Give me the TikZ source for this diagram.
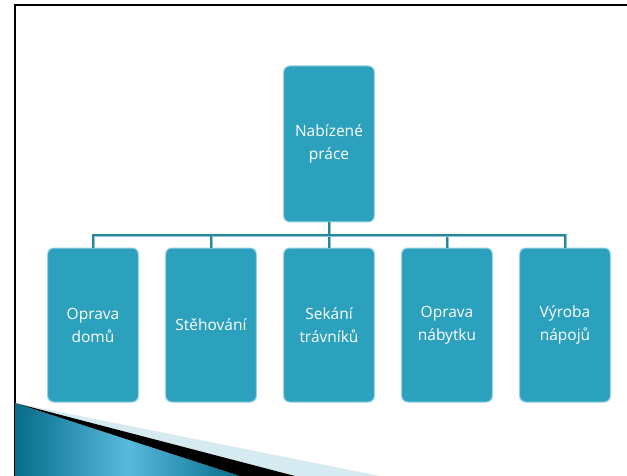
\documentclass[tikz,border=0pt]{standalone}
\usepackage{fontspec}
\setmainfont{Open Sans}
\usepackage{tikz}
\usetikzlibrary{calc}
\usetikzlibrary{positioning}
\definecolor{boxfill}{RGB}{44, 161, 190}
\definecolor{boxrim}{RGB}{150, 210, 226}
\definecolor{linedark}{RGB}{38, 134, 158}
\definecolor{linelight}{RGB}{140, 196, 212}
\definecolor{wedgedark}{RGB}{6, 108, 138}
\definecolor{wedgelight}{RGB}{88, 186, 220}
\definecolor{hatchfill}{RGB}{214, 234, 242}

\tikzset{
    jobbox/.style={rectangle, rounded corners=6pt, fill=boxfill, draw=boxrim, line width=1pt,
                   minimum width=89pt, text width=84pt, align=center, text=white,
                   font=\fontsize{15.5}{23}\selectfont},
    topbox/.style={jobbox, minimum height=156pt},
    childbox/.style={jobbox, minimum height=154pt},
    link/.style={draw=linelight, double=linedark, double distance=1.4pt, line width=0.8pt}
}

\begin{document}
\begin{tikzpicture}[x=1pt, y=-1pt]
            \useasboundingbox (0,0) rectangle (627,476);
            % Slide frame
            \draw[line width=2.2pt] (15,476) -- (15,5) -- (627,5);
            % Corner wedge
            \shade[left color=wedgedark, right color=wedgedark, middle color=wedgelight]
                 (15,403) -- (240,476) -- (15,476) -- cycle;
            \fill[hatchfill] (15,403) -- (380,476) -- (295,476) -- cycle;
            \fill[black]     (15,403) -- (295,476) -- (240,476) -- cycle;
            % Boxes
            \node[topbox]   (top) at (329,144) {Nabízené\\práce};
            \node[childbox] (c1)  at (93,325)  {Oprava\\domů};
            \node[childbox] (c2)  at (211,325) {Stěhování};
            \node[childbox] (c3)  at (329,325) {Sekání\\trávníků};
            \node[childbox] (c4)  at (447,325) {Oprava\\nábytku};
            \node[childbox] (c5)  at (565,325) {Výroba\\nápojů};
            % Links
            \foreach \c in {c1,c2,c3,c4,c5}
                \draw[link] (top.south) |- ($(top.south)!0.5!(\c.north)$) -| (\c.north);
        \end{tikzpicture}
\end{document}
